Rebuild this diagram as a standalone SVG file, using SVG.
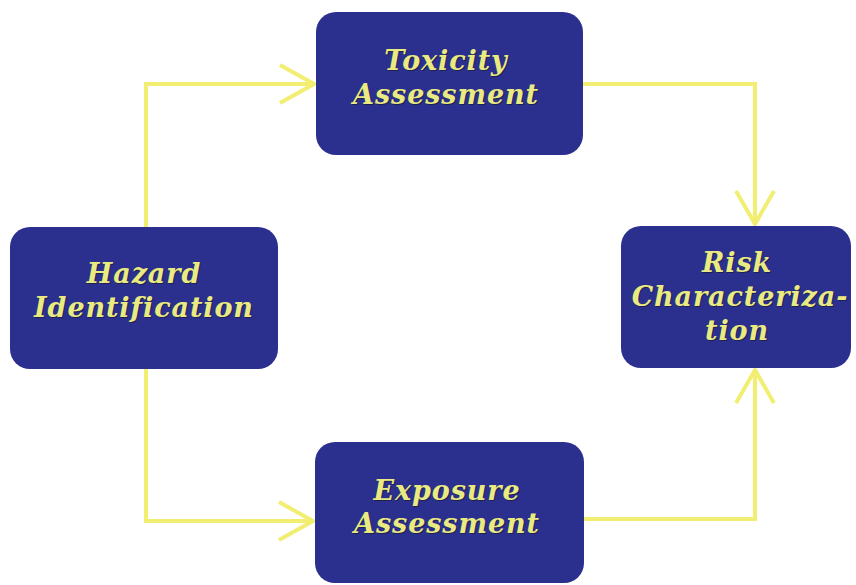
<svg xmlns="http://www.w3.org/2000/svg" width="856" height="585" viewBox="0 0 856 585">
  <defs>
    <style>
      .box { fill: #2b2f8e; }
      .lbl { font-family: "DejaVu Serif", "Liberation Serif", serif; font-weight: bold; font-style: italic; font-size: 27px; letter-spacing: 0.9px; text-anchor: middle; }
      .lbl .sh { fill: #1e2150; }
      .lbl .fg { fill: #eaea82; }
      .conn { fill: none; stroke: #f1ee72; stroke-width: 4; stroke-linejoin: miter; }
      .head { fill: none; stroke: #f1ee72; stroke-width: 4; stroke-linejoin: miter; stroke-linecap: butt; }
    </style>
  </defs>
  <rect width="856" height="585" fill="#ffffff"/>

  <g id="connectors">
    <!-- Hazard -> Toxicity -->
    <polyline class="conn" points="146,227 146,84 314,84"/>
    <polyline class="head" points="280,65 314,84 280,103"/>
    <!-- Toxicity -> Risk -->
    <polyline class="conn" points="583,84 755,84 755,224"/>
    <polyline class="head" points="736,191 755,224 774,191"/>
    <!-- Hazard -> Exposure -->
    <polyline class="conn" points="146,369 146,521 313,521"/>
    <polyline class="head" points="279,502 313,521 279,540"/>
    <!-- Exposure -> Risk -->
    <polyline class="conn" points="584,519 755,519 755,370"/>
    <polyline class="head" points="736,403 755,370 774,403"/>
  </g>

  <g id="hazard">
    <rect class="box" x="10" y="227" width="268" height="142" rx="20"/>
    <g class="lbl">
      <text class="sh" x="145" y="284">Hazard</text>
      <text class="sh" x="145" y="318">Identification</text>
      <text class="fg" x="144" y="283">Hazard</text>
      <text class="fg" x="144" y="317">Identification</text>
    </g>
  </g>

  <g id="toxicity">
    <rect class="box" x="316" y="12" width="267" height="143" rx="20"/>
    <g class="lbl">
      <text class="sh" x="447" y="71">Toxicity</text>
      <text class="sh" x="447" y="105">Assessment</text>
      <text class="fg" x="446" y="70">Toxicity</text>
      <text class="fg" x="446" y="104">Assessment</text>
    </g>
  </g>

  <g id="risk">
    <rect class="box" x="621" y="226" width="230" height="142" rx="20"/>
    <g class="lbl">
      <text class="sh" x="738" y="273">Risk</text>
      <text class="sh" x="741" y="307">Characteriza-</text>
      <text class="sh" x="738" y="341">tion</text>
      <text class="fg" x="737" y="272">Risk</text>
      <text class="fg" x="740" y="306">Characteriza-</text>
      <text class="fg" x="737" y="340">tion</text>
    </g>
  </g>

  <g id="exposure">
    <rect class="box" x="315" y="442" width="269" height="141" rx="20"/>
    <g class="lbl">
      <text class="sh" x="448" y="501">Exposure</text>
      <text class="sh" x="448" y="534">Assessment</text>
      <text class="fg" x="447" y="500">Exposure</text>
      <text class="fg" x="447" y="533">Assessment</text>
    </g>
  </g>
</svg>
